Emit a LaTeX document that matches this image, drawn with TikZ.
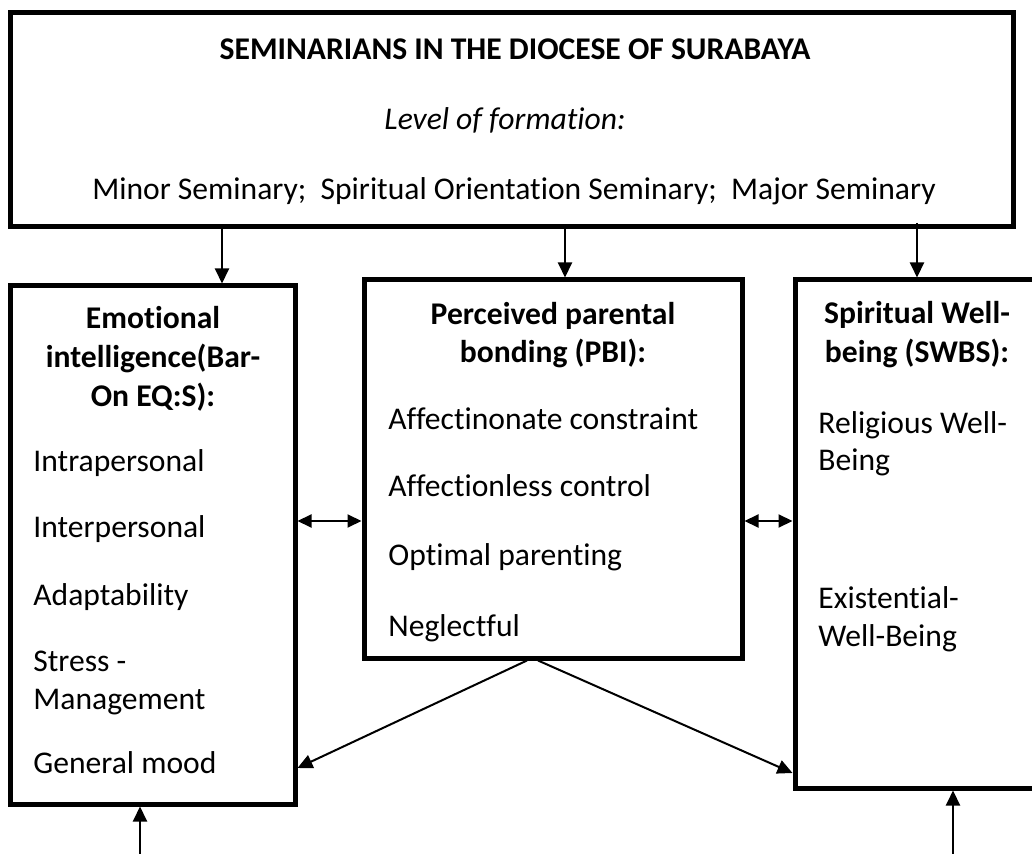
\documentclass[tikz,border=0pt]{standalone}
\usepackage{fontspec}
\setmainfont[Ligatures=NoCommon]{Carlito}
\usetikzlibrary{arrows.meta, positioning, calc}

\tikzset{
    box/.style={draw, line width=2.5pt, inner sep=0pt},
    txt/.style={inner sep=0pt, font=\fontsize{15.8}{19.5}\selectfont},
    head/.style={inner sep=0pt, font=\fontsize{15.8}{19.5}\selectfont\bfseries},
    link/.style={line width=1pt, -{Triangle[length=7.5pt, width=7pt]}},
    twoway/.style={line width=1pt, {Triangle[length=7pt, width=6.5pt]}-{Triangle[length=7pt, width=6.5pt]}}
}

\begin{document}
\begin{tikzpicture}[x=0.5pt, y=-0.5pt]

    \useasboundingbox (0,0) rectangle (1032,854);
    \clip (0,0) rectangle (1032,854);

    % boxes
    \node[box, minimum width=501.5pt, minimum height=107pt] (top) at (511.5,120) {};
    \node[box, minimum width=142.5pt, minimum height=259pt] (ei) at (152.5,545) {};
    \node[box, minimum width=189pt, minimum height=189pt] (pbi) at (553,469) {};
    \node[box, minimum width=122.5pt, minimum height=254pt] (swb) at (917.5,534) {};

    % top box text
    \node[head, anchor=base] (title) at (515,60) {SEMINARIANS IN THE DIOCESE OF SURABAYA};
    \node[txt, anchor=base] (level) at (505,130) {\itshape Level of formation:};
    \node[txt, anchor=base] (seminaries) at (514,200)
        {Minor Seminary;\ \ Spiritual Orientation Seminary;\ \ Major Seminary};

    % emotional intelligence
    \foreach \y/\t [count=\i] in {329/Emotional, 368/intelligence(Bar-, 407/On EQ:S):}
        \node[head, anchor=base] (ei-head-\i) at (153,\y) {\t};
    \foreach \y/\t [count=\i] in {472/Intrapersonal, 538/Interpersonal, 605/Adaptability,
                                  671/Stress -, 709/Management, 773/General mood}
        \node[txt, anchor=base west] (ei-item-\i) at (33,\y) {\t};

    % parental bonding
    \foreach \y/\t [count=\i] in {325/Perceived parental, 363/bonding (PBI):}
        \node[head, anchor=base] (pbi-head-\i) at (553,\y) {\t};
    \foreach \y/\t [count=\i] in {430/Affectinonate constraint, 497/Affectionless control,
                                  566/Optimal parenting, 636/Neglectful}
        \node[txt, anchor=base west] (pbi-item-\i) at (388,\y) {\t};

    % spiritual well-being
    \foreach \y/\t [count=\i] in {324/Spiritual Well-, 363/being (SWBS):}
        \node[head, anchor=base] (swb-head-\i) at (917,\y) {\t};
    \foreach \y/\t [count=\i] in {434/Religious Well-, 471/Being, 609/Existential-, 646/Well-Being}
        \node[txt, anchor=base west] (swb-item-\i) at (818,\y) {\t};

    % arrows from the top box
    \draw[link] (top.south -| 222,0) -- (ei.north -| 222,0);
    \draw[link] (top.south -| 565,0) -- (pbi.north -| 565,0);
    \draw[link] ([yshift=3.25pt]top.south -| 917,0) -- (swb.north -| 917,0);

    % two-way arrows
    \draw[twoway] (ei.east |- 0,521) -- (pbi.west |- 0,521);
    \draw[twoway] (pbi.east |- 0,521) -- (swb.west |- 0,521);

    % from parental bonding downwards
    \draw[link] (pbi.south -| 527,0) -- (ei.east |- 0,768);
    \draw[link] (pbi.south -| 538,0) -- (swb.west |- 0,773);

    % arrows from below
    \coordinate (ei-in) at (140,860);
    \coordinate (swb-in) at (953,860);
    \draw[link] (ei-in) -- (ei-in |- ei.south);
    \draw[link] (swb-in) -- (swb-in |- swb.south);

\end{tikzpicture}
\end{document}
